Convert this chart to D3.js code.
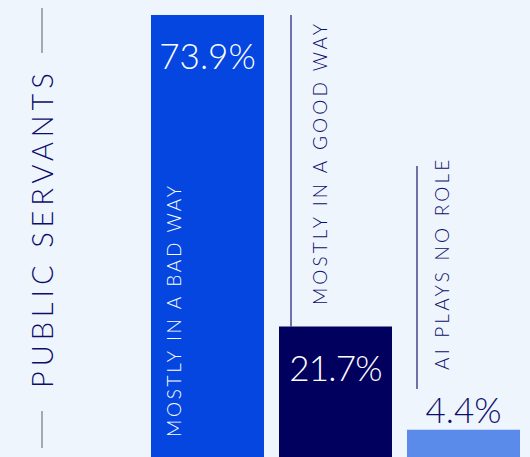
<!DOCTYPE html>
<html>
<head>
<meta charset="utf-8">
<script src="https://cdn.jsdelivr.net/npm/d3@7"></script>
<style>
  html, body { margin: 0; padding: 0; background: #EEF5FD; }
  svg { display: block; }
  text { font-family: Lato, "Open Sans", sans-serif; }
</style>
</head>
<body>
<svg id="chart" width="530" height="457"></svg>
<script>
// Share of public servants by how they see AI affecting their work
const categories = ["MOSTLY IN A BAD WAY", "MOSTLY IN A GOOD WAY", "AI PLAYS NO ROLE"];
const values = [73.9, 21.7, 4.4];
const valueLabels = ["73.9%", "21.7%", "4.4%"];
const title = "PUBLIC SERVANTS";

const colors = ["#0446DF", "#02005F", "#5B8BEA"];
const ink = "#0D0D6B";

const W = 530, H = 457;
const svg = d3.select("#chart");

const x = d3.scaleBand()
  .domain(categories)
  .range([151, 520])
  .paddingInner(15 / 128)
  .paddingOuter(0);

const y = d3.scaleLinear()
  .domain([0, 73.9])
  .range([456, 15]);

const bw = x.bandwidth();

// bars run to the bottom edge
svg.selectAll("rect.bar")
  .data(categories)
  .join("rect")
  .attr("class", "bar")
  .attr("x", d => x(d))
  .attr("y", (d, i) => y(values[i]))
  .attr("width", bw)
  .attr("height", (d, i) => H - y(values[i]))
  .attr("fill", (d, i) => colors[i]);

// value labels: inside the two tall bars, above the short one
const fs = 35;
svg.selectAll("text.val")
  .data(categories)
  .join("text")
  .attr("class", "val")
  .attr("x", d => x(d) + bw / 2)
  .attr("y", (d, i) => i < 2 ? y(values[i]) + 54 : y(values[i]) - 7)
  .attr("text-anchor", "middle")
  .attr("font-size", fs)
  .attr("font-weight", 300)
  .attr("letter-spacing", (d, i) => i === 1 ? -0.8 : 0)
  .attr("fill", (d, i) => i < 2 ? "#fff" : ink)
  .text((d, i) => valueLabels[i]);

// category labels, rotated; first sits inside its bar
const catFs = 19;
const labelPos = [
  { dx: 30, bottom: 437, ls: 2.7 },
  { dx: 48, bottom: 305, ls: 3.1 },
  { dx: 42, bottom: 370, ls: 3.2 }
];
svg.selectAll("text.cat")
  .data(categories)
  .join("text")
  .attr("class", "cat")
  .attr("transform", (d, i) => `translate(${x(d) + labelPos[i].dx},${labelPos[i].bottom}) rotate(-90)`)
  .attr("font-size", catFs)
  .attr("font-weight", 300)
  .attr("letter-spacing", (d, i) => labelPos[i].ls)
  .attr("fill", (d, i) => i === 0 ? "#fff" : ink)
  .text(d => d);

// leader rules beside the outside labels
const rules = [
  { i: 1, dx: 12, y1: 15, y2: y(values[1]) },
  { i: 2, dx: 10, y1: 166, y2: 389 }
];
svg.selectAll("line.rule")
  .data(rules)
  .join("line")
  .attr("class", "rule")
  .attr("x1", d => x(categories[d.i]) + d.dx)
  .attr("x2", d => x(categories[d.i]) + d.dx)
  .attr("y1", d => d.y1)
  .attr("y2", d => d.y2)
  .attr("stroke", "#2B2B7A")
  .attr("stroke-width", 1.3);

// group title with grey rules above and below
const tx = 53, tcy = 388;
svg.append("text")
  .attr("transform", `translate(${tx},${tcy}) rotate(-90)`)
  .attr("font-size", 29)
  .attr("font-weight", 300)
  .attr("letter-spacing", 4.9)
  .attr("fill", ink)
  .text(title);

svg.append("line")
  .attr("x1", 42).attr("x2", 42).attr("y1", 8).attr("y2", 53)
  .attr("stroke", "#808080").attr("stroke-width", 1.3);
svg.append("line")
  .attr("x1", 42).attr("x2", 42).attr("y1", 411).attr("y2", 448)
  .attr("stroke", "#808080").attr("stroke-width", 1.3);
</script>
</body>
</html>
